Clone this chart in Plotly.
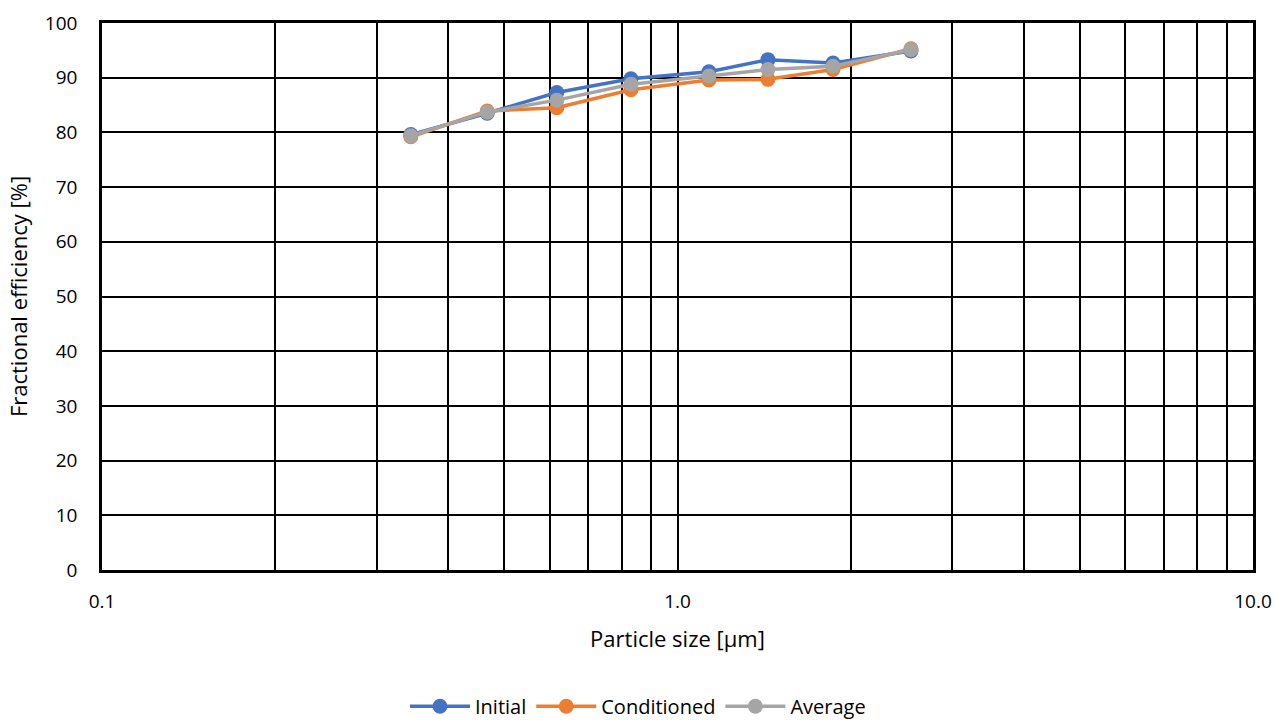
import plotly.graph_objects as go

particle_size = [0.344, 0.467, 0.617, 0.830, 1.134, 1.436, 1.863, 2.545]
initial = [79.6, 83.5, 87.3, 89.8, 91.1, 93.3, 92.7, 94.9]
conditioned = [79.2, 83.9, 84.5, 87.8, 89.6, 89.7, 91.5, 95.3]
average = [79.4, 83.7, 85.9, 88.8, 90.3, 91.5, 92.1, 95.1]

series = [("Initial", initial, "#4472C4"),
          ("Conditioned", conditioned, "#ED7D31"),
          ("Average", average, "#A5A5A5")]

fig = go.Figure()
for name, vals, color in series:
    fig.add_trace(go.Scatter(x=particle_size, y=vals, name=name, mode="lines+markers",
                             line=dict(color=color, width=3.5),
                             marker=dict(color=color, size=15)))

font = "Open Sans"
fig.update_layout(
    width=1276, height=720,
    margin=dict(l=102, r=23, t=23, b=150),
    plot_bgcolor="white", paper_bgcolor="white",
    font=dict(family=font, size=19, color="black"),
    showlegend=True,
    legend=dict(orientation="h", x=0.5, xanchor="center", xref="container",
                y=0.019, yanchor="middle", yref="container",
                font=dict(family=font, size=20, color="black"), itemwidth=60),
    xaxis=dict(type="log", range=[-1, 1], automargin=False,
               tickvals=[0.1, 1, 10], ticktext=["0.1", "1.0", "10.0"],
               tickfont=dict(family=font, size=19, color="black"),
               showgrid=True, gridcolor="black", gridwidth=2,
               minor=dict(dtick="D1", showgrid=True, gridcolor="black", gridwidth=2),
               showline=True, linecolor="black", linewidth=2.5, mirror=True,
               ticks="", ticklabelstandoff=12,
               title=dict(text="Particle size [µm]", standoff=20,
                          font=dict(family=font, size=22, color="black")),
               zeroline=False),
    yaxis=dict(range=[0, 100], dtick=10, automargin=False,
               tickfont=dict(family=font, size=19, color="black"),
               showgrid=True, gridcolor="black", gridwidth=2,
               showline=True, linecolor="black", linewidth=2.5, mirror=True,
               ticks="", ticklabelstandoff=18,
               title=dict(text="Fractional efficiency [%]", standoff=12,
                          font=dict(family=font, size=22, color="black")),
               zeroline=False),
)

fig.write_html("out.html")
